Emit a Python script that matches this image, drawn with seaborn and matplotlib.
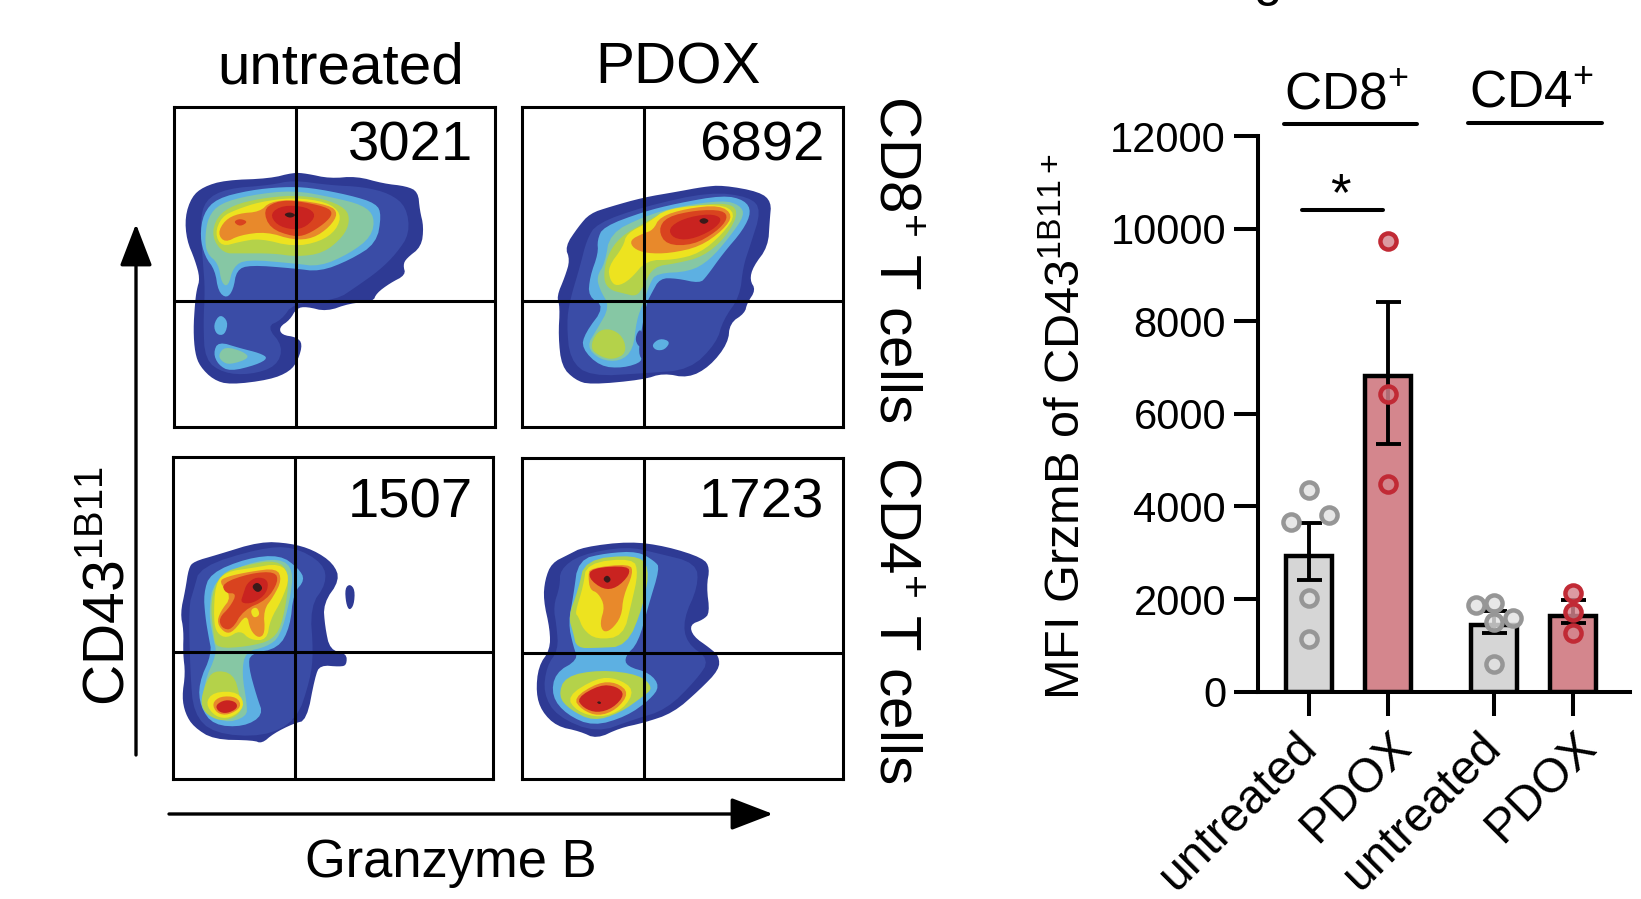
import numpy as np
import pandas as pd
import matplotlib
matplotlib.use("Agg")
import matplotlib.pyplot as plt
from matplotlib.colors import to_rgba
from matplotlib.transforms import ScaledTranslation
import seaborn as sns

# bar chart values
groups = ["untreated", "PDOX", "untreated", "PDOX"]
bar_pos = [0, 1, 2.33, 3.33]
bar_height = [2940, 6820, 1430, 1640]
mfi_mean = [3021, 6892, 1507, 1723]
mfi_sem = [612, 1533, 230, 250]
panel_labels = ["3021", "6892", "1507", "1723"]

# single mice
dots_bar = [0, 0, 0, 0, 0, 1, 1, 1, 2, 2, 2, 2, 2, 3, 3, 3]
dots_shift = [0, 0.25, -0.23, 0, 0, 0, 0, 0, -0.23, 0, 0.24, 0, 0, 0, 0, 0]
dots_mfi = [4356, 3816, 3672, 2030, 1138, 9733, 6430, 4486, 1873, 1909, 1598, 1505, 598, 2130, 1728, 1266]

y_ticks = [0, 2000, 4000, 6000, 8000, 10000, 12000]

# density contours, channel units
p1_outer = [(105,380),(125,320),(160,290),(225,270),(360,265),(430,247),(470,250),(540,265),(620,258),(700,280),(770,288),(805,305),(810,360),(822,410),(815,470),(770,505),(760,525),(768,555),(720,580),(680,610),(670,635),(600,640),(530,665),(470,650),(440,655),(420,690),(388,712),(395,735),(440,742),(458,762),(445,810),(420,845),(360,870),(240,885),(190,870),(150,830),(135,790),(130,720),(135,640),(140,600),(150,565),(135,510),(110,450)]
p1_blue = [(150,400),(165,330),(230,295),(360,285),(430,270),(540,285),(640,290),(720,310),(770,350),(780,430),(740,490),(690,540),(620,590),(560,630),(430,640),(395,690),(350,710),(400,770),(380,830),(300,855),(220,850),(165,810),(160,700),(165,600),(160,530)]
p1_light = [(150,440),(160,370),(200,325),(300,300),(400,290),(480,292),(600,315),(680,340),(695,375),(680,460),(600,510),(510,545),(430,535),(300,525),(260,540),(250,600),(230,625),(205,605),(195,540),(165,500)]
p1_light2 = [(190,705),(210,672),(235,695),(225,735),(200,735)]
p1_light3 = [(190,790),(205,755),(270,775),(330,790),(355,805),(320,825),(240,845),(205,825)]
p1_green = [(165,440),(175,380),(210,340),(300,315),(430,300),(550,322),(640,345),(675,380),(665,440),(600,490),(510,530),(430,520),(290,508),(250,530),(235,590),(215,580),(205,520),(170,490)]
p1_green2 = [(205,795),(225,770),(280,785),(300,805),(240,825),(215,815)]
p1_lime = [(185,440),(200,380),(250,345),(330,325),(430,315),(520,325),(590,355),(600,395),(580,440),(520,490),(440,500),(370,490),(270,490),(220,490)]
p1_yellow = [(195,430),(215,380),(260,358),(330,335),(430,322),(530,335),(575,370),(560,420),(510,455),(430,470),(330,445),(270,455),(215,470)]
p1_orange = [(203,430),(225,390),(265,370),(330,365),(360,335),(430,328),(540,345),(565,370),(540,410),(490,445),(430,450),(350,425),(270,435),(225,458)]
p1_redor = [(340,360),(375,335),(430,330),(530,350),(550,370),(525,400),(470,435),(430,440),(360,415)]
p1_redor2 = [(250,395),(270,385),(295,395),(270,410)]
p1_red = [(360,370),(400,345),(470,350),(500,375),(470,410),(430,420),(380,405)]
p1_dark = [(400,373),(420,365),(440,375),(420,385)]

p2_outer = [(240,370),(300,350),(400,322),(500,305),(580,290),(640,285),(750,305),(785,335),(780,390),(775,470),(730,530),(720,570),(738,600),(712,640),(705,670),(660,700),(655,760),(600,830),(535,865),(460,850),(400,870),(240,885),(195,870),(155,830),(145,740),(150,650),(140,620),(165,560),(180,510),(165,470),(205,410)]
p2_blue = [(260,400),(400,350),(600,305),(720,320),(755,360),(720,470),(700,530),(690,620),(640,690),(620,760),(540,840),(410,850),(240,860),(180,810),(170,700),(180,630),(210,530),(230,450)]
p2_light = [(262,450),(280,410),(400,365),(500,340),(640,315),(705,330),(725,365),(700,420),(640,490),(590,560),(570,580),(500,565),(450,565),(425,610),(410,640),(395,720),(385,790),(400,815),(340,835),(270,830),(215,775),(225,730),(285,650),(235,620),(240,560),(265,490)]
p2_hole = [(375,745),(390,715),(402,740),(400,770),(385,770)]
p2_ring = [(405,770),(445,730),(500,750),(480,790),(430,800)]
p2_light2 = [(425,765),(450,745),(482,755),(465,780),(438,782)]
p2_green = [(285,520),(300,430),(400,380),(500,350),(640,330),(690,345),(705,375),(660,440),(600,510),(540,545),(440,550),(420,580),(400,640),(380,690),(370,780),(330,815),(270,810),(230,770),(260,720),(300,650),(270,600),(260,560)]
p2_lime = [(280,570),(290,500),(330,440),(410,395),(470,360),(640,335),(690,360),(650,440),(580,500),(500,520),(430,530),(400,590),(380,620),(340,610),(300,600)]
p2_lime2 = [(240,775),(260,725),(300,715),(340,740),(350,790),(310,810),(270,800)]
p2_yellow = [(300,570),(295,530),(340,470),(350,430),(420,395),(470,355),(630,340),(680,370),(640,430),(570,490),(490,510),(410,510),(360,570),(320,590)]
p2_orange = [(360,450),(400,430),(430,420),(450,380),(530,355),(630,345),(670,375),(640,420),(570,470),(480,490),(410,490),(370,475)]
p2_redor = [(445,420),(470,380),(560,360),(640,360),(655,385),(620,425),(550,465),(470,465)]
p2_red = [(475,415),(520,385),(600,370),(640,385),(610,420),(540,450),(490,445)]
p2_dark = [(565,392),(582,382),(600,392),(582,404)]

p3_outer = [(115,385),(130,365),(200,345),(330,305),(420,310),(490,330),(550,370),(570,420),(520,490),(525,560),(540,630),(590,640),(590,675),(570,680),(510,675),(495,710),(470,840),(430,850),(370,880),(335,910),(310,900),(190,898),(130,860),(105,820),(95,770),(105,700),(98,640),(100,570),(90,520),(105,450)]
p3_island = [(585,445),(600,432),(615,450),(612,495),(598,512),(588,490)]
p3_blue = [(130,450),(150,380),(330,325),(430,320),(520,370),(530,430),(480,500),(490,640),(480,720),(440,840),(340,890),(190,880),(130,820),(120,700),(115,500)]
p3_light = [(160,460),(180,400),(290,355),(390,345),(445,385),(465,420),(430,460),(420,560),(385,625),(300,640),(295,680),(320,770),(340,825),(280,860),(190,855),(150,800),(145,730),(185,640),(175,590),(165,530)]
p3_green = [(175,520),(190,420),(290,370),(390,355),(430,390),(420,480),(390,590),(350,620),(285,635),(275,700),(290,790),(290,830),(220,850),(165,800),(160,730),(200,640),(190,600)]
p3_lime = [(190,590),(180,480),(210,400),(290,375),(380,360),(420,400),(400,540),(370,600),(290,620),(200,625)]
p3_lime2 = [(150,790),(165,730),(190,690),(250,700),(270,770),(275,820),(220,845),(170,825)]
p3_yellow = [(190,540),(195,430),(230,395),(300,385),(390,370),(420,410),(395,480),(360,540),(350,600),(300,600),(270,570),(230,595),(200,580)]
p3_yellow2 = [(165,790),(190,755),(265,755),(285,800),(240,835),(195,830)]
p3_orange = [(205,425),(230,410),(300,395),(380,385),(395,420),(370,470),(340,510),(345,580),(325,595),(300,570),(290,520),(250,575),(225,580),(200,550),(210,515),(245,470)]
p3_orange2 = [(185,790),(210,768),(260,770),(275,800),(235,825),(200,820)]
p3_redor = [(215,430),(300,400),(375,395),(385,425),(350,480),(280,510),(245,570),(215,565),(205,535),(240,500),(260,460),(225,460)]
p3_spot = [(300,510),(320,500),(330,525),(310,535)]
p3_red = [(290,430),(320,410),(355,420),(350,460),(310,490),(270,490),(280,460)]
p3_red2 = [(195,795),(225,778),(258,785),(262,805),(230,820),(205,815)]
p3_dark = [(303,440),(322,425),(340,445),(322,460)]

p4_outer = [(125,370),(175,345),(220,322),(360,305),(470,320),(580,355),(600,385),(590,440),(600,520),(580,540),(540,555),(550,590),(600,625),(628,650),(628,690),(570,750),(490,820),(400,850),(330,865),(260,898),(210,875),(140,860),(95,815),(78,760),(85,680),(120,630),(120,570),(100,480),(105,420)]
p4_gap = [(545,424),(558,410),(556,422),(548,430)]
p4_blue = [(150,440),(150,390),(210,345),(350,320),(440,340),(560,370),(565,440),(520,540),(530,610),(600,660),(560,720),(470,810),(370,840),(260,880),(140,830),(100,760),(110,680),(145,630),(140,560),(130,500)]
p4_light = [(190,470),(205,360),(290,340),(385,335),(435,365),(450,385),(415,500),(385,610),(345,650),(350,680),(420,700),(450,740),(420,780),(350,830),(250,860),(170,825),(125,770),(135,700),(205,660),(190,620),(175,550)]
p4_lime = [(175,530),(205,450),(225,360),(375,345),(420,380),(400,500),(350,620),(260,625),(200,625),(190,580)]
p4_lime2 = [(145,770),(165,710),(270,690),(390,705),(430,745),(400,770),(330,820),(250,845),(180,810)]
p4_yellow = [(195,520),(220,440),(230,370),(370,355),(385,400),(365,490),(340,590),(260,600),(220,570),(205,530)]
p4_yellow2 = [(170,770),(260,715),(320,715),(375,750),(340,810),(270,835),(200,815)]
p4_orange = [(235,410),(240,385),(360,372),(370,400),(340,470),(335,530),(305,570),(280,578),(270,550),(285,500),(265,460),(240,450)]
p4_orange2 = [(190,775),(265,728),(320,728),(358,760),(320,810),(265,830),(215,810)]
p4_red = [(235,415),(245,385),(355,378),(360,405),(320,445),(280,450)]
p4_red2 = [(200,775),(270,735),(320,740),(345,765),(310,805),(262,820),(220,805)]
p4_dark = [(278,418),(292,405),(305,420),(292,432)]
p4_dark2 = [(260,788),(268,784),(275,790),(268,794)]

c_outer = "#2E3A94"
c_blue = "#3A4CA6"
c_light = "#5DB0E2"
c_green = "#86C7A4"
c_lime = "#B4D24A"
c_yellow = "#EDE31F"
c_orange = "#E8892B"
c_redor = "#D9431F"
c_red = "#C92320"
c_dark = "#3B1A1A"

p1_bands = [(p1_outer, c_outer), (p1_blue, c_blue), (p1_light, c_light), (p1_light2, c_light), (p1_light3, c_light),
            (p1_green, c_green), (p1_green2, c_green), (p1_lime, c_lime), (p1_yellow, c_yellow), (p1_orange, c_orange),
            (p1_redor, c_redor), (p1_redor2, c_redor), (p1_red, c_red), (p1_dark, c_dark)]
p2_bands = [(p2_outer, c_outer), (p2_blue, c_blue), (p2_light, c_light), (p2_green, c_green), (p2_hole, c_blue),
            (p2_ring, c_blue), (p2_light2, c_light), (p2_lime, c_lime), (p2_lime2, c_lime), (p2_yellow, c_yellow),
            (p2_orange, c_orange), (p2_redor, c_redor), (p2_red, c_red), (p2_dark, c_dark)]
p3_bands = [(p3_outer, c_outer), (p3_island, c_outer), (p3_blue, c_blue), (p3_light, c_light), (p3_green, c_green),
            (p3_lime, c_lime), (p3_lime2, c_lime), (p3_yellow, c_yellow), (p3_yellow2, c_yellow), (p3_orange, c_orange),
            (p3_orange2, c_orange), (p3_redor, c_redor), (p3_spot, c_yellow), (p3_red, c_red), (p3_red2, c_red), (p3_dark, c_dark)]
p4_bands = [(p4_outer, c_outer), (p4_gap, "white"), (p4_blue, c_blue), (p4_light, c_light), (p4_lime, c_lime), (p4_lime2, c_lime),
            (p4_yellow, c_yellow), (p4_yellow2, c_yellow), (p4_orange, c_orange), (p4_orange2, c_orange),
            (p4_red, c_red), (p4_red2, c_red), (p4_dark, c_dark), (p4_dark2, c_dark)]

sns.set_style("white")
plt.rcParams["font.family"] = ["Liberation Sans", "DejaVu Sans"]
plt.rcParams["mathtext.fontset"] = "custom"
plt.rcParams["mathtext.rm"] = "Liberation Sans"
plt.rcParams["mathtext.default"] = "regular"
plt.rcParams["text.color"] = "black"
plt.rcParams["axes.labelcolor"] = "black"
plt.rcParams["xtick.color"] = "black"
plt.rcParams["ytick.color"] = "black"

W, H = 1641, 899
fig = plt.figure(figsize=(W / 100, H / 100), dpi=100)


def px_axes(left, top, right, bottom):
    return fig.add_axes([left / W, 1 - bottom / H, (right - left) / W, (bottom - top) / H])


def smooth(points, rounds=2):
    # corner cutting so the contours do not look like polygons
    pts = np.array(points, dtype=float)
    for _ in range(rounds):
        nxt = np.roll(pts, -1, axis=0)
        pts = np.column_stack([0.75 * pts + 0.25 * nxt, 0.25 * pts + 0.75 * nxt]).reshape(-1, 2)
    return pts


def flow_panel(box, xlim, ylim, gate, bands, label, label_x, label_y):
    ax = px_axes(*box)
    for pts, col in bands:
        s = smooth(pts)
        ax.fill(s[:, 0], s[:, 1], color=col, lw=0)
    ax.axvline(gate[0], color="black", lw=2.2)
    ax.axhline(gate[1], color="black", lw=2.2)
    ax.set_xlim(xlim)
    ax.set_ylim(ylim)
    ax.set_xticks([])
    ax.set_yticks([])
    for s in ax.spines.values():
        s.set_visible(True)
        s.set_color("black")
        s.set_linewidth(2.2)
    ax.text(label_x, label_y, label, fontsize=40.5, ha="right", va="baseline")
    return ax


flow_panel((174, 107, 495, 427), (72, 1036), (1012, 50), (438, 634), p1_bands, panel_labels[0], 970, 210)
flow_panel((522, 107, 843, 427), (36, 1000), (1012, 50), (403, 634), p2_bands, panel_labels[1], 944, 210)
flow_panel((173, 457, 493, 779), (68, 1030), (1016, 52), (435, 635), p3_bands, panel_labels[2], 971, 232)
flow_panel((522, 458, 843, 779), (36, 1000), (1018, 55), (403, 640), p4_bands, panel_labels[3], 944, 232)

# bar panel
x0, px_per_bar = 1309, 79.3
ax = px_axes(1258, 136, 1630, 691.7)
bars = pd.DataFrame({"pos": bar_pos, "mfi": bar_height, "group": groups})
sns.barplot(data=bars, x="pos", y="mfi", hue="group", native_scale=True, dodge=False, saturation=1,
            palette={"untreated": "#D6D6D6", "PDOX": "#D4868D"}, edgecolor="black", linewidth=3.2,
            width=0.58, errorbar=None, legend=False, ax=ax, zorder=1)
ax.errorbar(bar_pos, mfi_mean, yerr=mfi_sem, fmt="none", ecolor="black", elinewidth=2.8,
            capsize=9, capthick=2.8, zorder=2)
dots = pd.DataFrame({"x": [bar_pos[b] + s for b, s in zip(dots_bar, dots_shift)], "y": dots_mfi,
                     "group": [groups[b] for b in dots_bar]})
for name, edge, face in [("untreated", "#969696", "#E2E2E2"), ("PDOX", "#C12A35", "#D5858E")]:
    part = dots[dots["group"] == name]
    sns.scatterplot(data=part, x="x", y="y", ax=ax, s=135, facecolor=to_rgba(face, 0.82), edgecolor=edge, linewidth=3.2,
                    zorder=3, clip_on=False, legend=False)
ax.set_xlim((1258 - x0) / px_per_bar, (1630 - x0) / px_per_bar)
ax.set_ylim(0, 12000)
ax.set_yticks(y_ticks)
ax.set_xticks(bar_pos)
ax.set_xticklabels(groups, rotation=45, ha="right", va="top", rotation_mode="anchor", fontsize=34.5)
ax.tick_params(axis="y", labelsize=30, length=17, width=2.9, pad=6, left=True)
ax.tick_params(axis="x", length=17, width=2.9, pad=6, bottom=True)
ax.set_xlabel("")
ax.set_ylabel(r"MFI GrzmB of CD43$^{1B11+}$", fontsize=35)
ax.yaxis.set_label_coords((1090 - 1258) / 372, 0.478)
sns.despine(ax=ax)
for side in ["left", "bottom"]:
    ax.spines[side].set_linewidth(2.9)
    ax.spines[side].set_color("black")
# the long labels sit further left than the short ones in the figure
for lab in ax.get_xticklabels():
    if lab.get_text() == "untreated":
        lab.set_transform(lab.get_transform() + ScaledTranslation(-15 / 100, 0, fig.dpi_scale_trans))

# overlay for labels and arrows, in figure pixels
ov = fig.add_axes([0, 0, 1, 1], facecolor="none")
ov.set_xlim(0, W)
ov.set_ylim(H, 0)
ov.axis("off")
ov.text(1268, -5, "g", fontsize=37, ha="center", va="baseline", clip_on=False)
ov.text(341, 84, "untreated", fontsize=42, ha="center", va="baseline")
ov.text(678, 84, "PDOX", fontsize=42, ha="center", va="baseline")
ov.text(895, 259, r"CD8$^{+}$ T cells", fontsize=42, rotation=270, ha="center", va="center")
ov.text(895, 620, r"CD4$^{+}$ T cells", fontsize=42, rotation=270, ha="center", va="center")
ov.text(109, 586, r"CD43$^{1B11}$", fontsize=41, rotation=90, ha="center", va="center")
ov.text(451, 877, "Granzyme B", fontsize=37.8, ha="center", va="baseline")
head = "-|>,head_length=2.6,head_width=1.0"
ov.annotate("", xy=(136, 224), xytext=(136, 755),
            arrowprops=dict(arrowstyle=head, color="black", lw=2.4, shrinkA=0, shrinkB=0))
ov.annotate("", xy=(773, 814), xytext=(169, 814),
            arrowprops=dict(arrowstyle=head, color="black", lw=2.4, shrinkA=0, shrinkB=0))
ov.text(1346, 109, r"CD8$^{+}$", fontsize=37, ha="center", va="baseline")
ov.text(1531, 107, r"CD4$^{+}$", fontsize=37, ha="center", va="baseline")
ov.plot([1284, 1417], [124, 124], color="black", lw=2.9)
ov.plot([1468, 1602], [122.5, 122.5], color="black", lw=2.9)
ov.plot([1302, 1383], [210, 210], color="black", lw=2.9)
ov.text(1340, 210, "*", fontsize=38, ha="center", va="baseline")

fig.savefig("out.png", dpi=100)
